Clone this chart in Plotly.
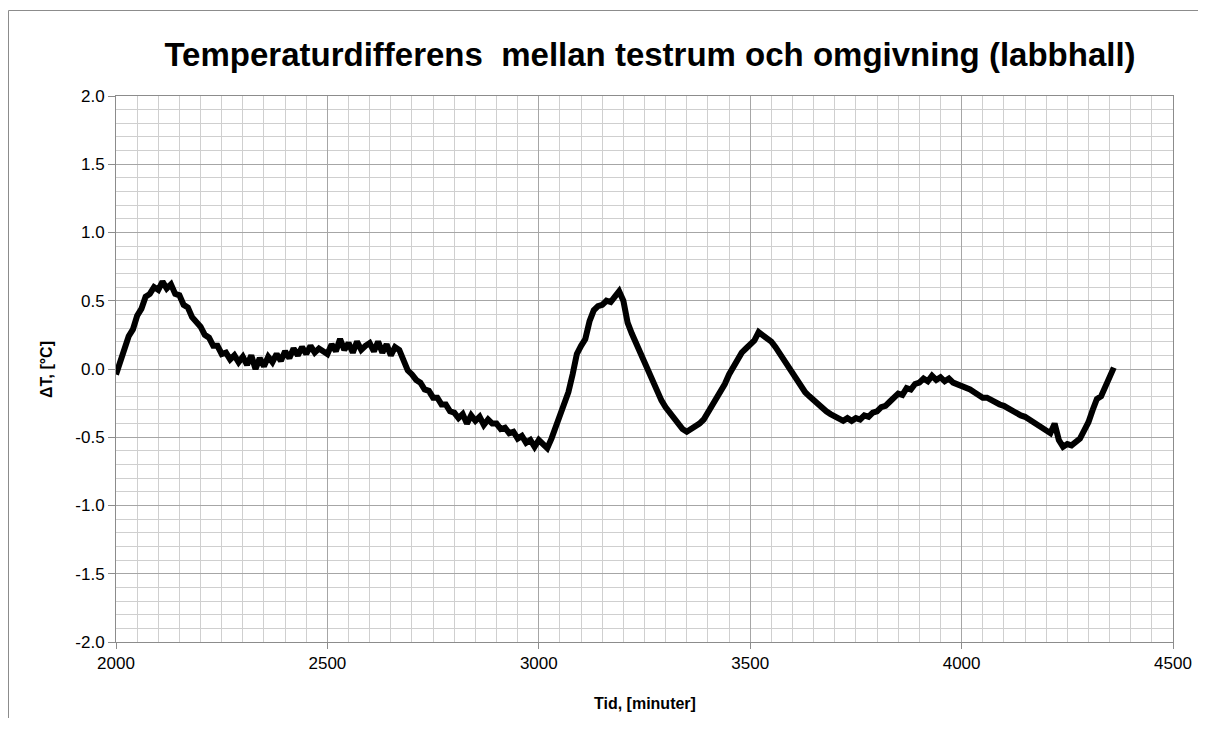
import plotly.graph_objects as go

# ---- data ----
TIME_MIN = [
    2000, 2010, 2020, 2030, 2040, 2050, 2060, 2070, 2080, 2090,
    2100, 2110, 2120, 2130, 2140, 2150, 2160, 2170, 2180, 2190,
    2200, 2210, 2220, 2230, 2240, 2250, 2260, 2270, 2280, 2290,
    2300, 2310, 2320, 2330, 2340, 2350, 2360, 2370, 2380, 2390,
    2400, 2410, 2420, 2430, 2440, 2450, 2460, 2470, 2480, 2490,
    2500, 2510, 2520, 2530, 2540, 2550, 2560, 2570, 2580, 2590,
    2600, 2610, 2620, 2630, 2640, 2650, 2660, 2670, 2680, 2690,
    2700, 2710, 2720, 2730, 2740, 2750, 2760, 2770, 2780, 2790,
    2800, 2810, 2820, 2830, 2840, 2850, 2860, 2870, 2880, 2890,
    2900, 2910, 2920, 2930, 2940, 2950, 2960, 2970, 2980, 2990,
    3000, 3010, 3020, 3030, 3040, 3050, 3060, 3070, 3080, 3090,
    3100, 3110, 3120, 3130, 3140, 3150, 3160, 3170, 3180, 3190,
    3200, 3210, 3220, 3230, 3240, 3250, 3260, 3270, 3280, 3290,
    3300, 3310, 3320, 3330, 3340, 3350, 3360, 3370, 3380, 3390,
    3400, 3410, 3420, 3430, 3440, 3450, 3460, 3470, 3480, 3490,
    3500, 3510, 3520, 3530, 3540, 3550, 3560, 3570, 3580, 3590,
    3600, 3610, 3620, 3630, 3640, 3650, 3660, 3670, 3680, 3690,
    3700, 3710, 3720, 3730, 3740, 3750, 3760, 3770, 3780, 3790,
    3800, 3810, 3820, 3830, 3840, 3850, 3860, 3870, 3880, 3890,
    3900, 3910, 3920, 3930, 3940, 3950, 3960, 3970, 3980, 3990,
    4000, 4010, 4020, 4030, 4040, 4050, 4060, 4070, 4080, 4090,
    4100, 4110, 4120, 4130, 4140, 4150, 4160, 4170, 4180, 4190,
    4200, 4210, 4220, 4230, 4240, 4250, 4260, 4270, 4280, 4290,
    4300, 4310, 4320, 4330, 4340, 4350, 4360,
]

DELTA_T = [
    -0.04, 0.06, 0.15, 0.24, 0.29, 0.39, 0.44, 0.53, 0.55, 0.60,
    0.58, 0.64, 0.59, 0.62, 0.55, 0.54, 0.47, 0.45, 0.38, 0.35,
    0.31, 0.25, 0.23, 0.17, 0.17, 0.11, 0.12, 0.07, 0.10, 0.05,
    0.09, 0.03, 0.10, 0.00, 0.08, 0.02, 0.09, 0.05, 0.11, 0.06,
    0.13, 0.08, 0.15, 0.10, 0.16, 0.11, 0.17, 0.12, 0.15, 0.13,
    0.11, 0.18, 0.13, 0.22, 0.14, 0.19, 0.12, 0.20, 0.14, 0.17,
    0.19, 0.13, 0.20, 0.12, 0.18, 0.10, 0.16, 0.14, 0.06, -0.01,
    -0.04, -0.08, -0.10, -0.15, -0.16, -0.21, -0.21, -0.26, -0.26, -0.31,
    -0.32, -0.36, -0.33, -0.40, -0.34, -0.38, -0.35, -0.41, -0.37, -0.40,
    -0.40, -0.44, -0.43, -0.47, -0.46, -0.51, -0.49, -0.54, -0.52, -0.57,
    -0.52, -0.55, -0.58, -0.51, -0.43, -0.35, -0.27, -0.17, -0.04, 0.11,
    0.17, 0.22, 0.35, 0.43, 0.46, 0.47, 0.50, 0.49, 0.53, 0.57,
    0.50, 0.34, 0.26, 0.19, 0.12, 0.05, -0.02, -0.10, -0.16, -0.23,
    -0.28, -0.32, -0.37, -0.40, -0.44, -0.46, -0.44, -0.43, -0.40, -0.37,
    -0.32, -0.28, -0.22, -0.16, -0.11, -0.04, 0.02, 0.07, 0.12, 0.15,
    0.18, 0.21, 0.27, 0.25, 0.23, 0.20, 0.16, 0.11, 0.06, 0.01,
    -0.04, -0.09, -0.13, -0.17, -0.20, -0.23, -0.26, -0.29, -0.31, -0.33,
    -0.35, -0.36, -0.38, -0.36, -0.38, -0.36, -0.37, -0.34, -0.35, -0.32,
    -0.31, -0.28, -0.27, -0.24, -0.21, -0.18, -0.19, -0.14, -0.15, -0.11,
    -0.10, -0.07, -0.09, -0.05, -0.08, -0.06, -0.09, -0.07, -0.10, -0.11,
    -0.12, -0.14, -0.15, -0.17, -0.19, -0.21, -0.21, -0.23, -0.25, -0.26,
    -0.27, -0.29, -0.30, -0.32, -0.34, -0.35, -0.37, -0.39, -0.40, -0.42,
    -0.44, -0.47, -0.40, -0.52, -0.57, -0.55, -0.56, -0.53, -0.51, -0.45,
    -0.39, -0.30, -0.22, -0.20, -0.13, -0.07, 0.01,
]

X_TICKS = [2000, 2500, 3000, 3500, 4000, 4500]
Y_TICKS = [2.0, 1.5, 1.0, 0.5, 0.0, -0.5, -1.0, -1.5, -2.0]
Y_TICK_TEXT = ["2.0", "1.5", "1.0", "0.5", "0.0", "-0.5", "-1.0", "-1.5", "-2.0"]

TITLE = "Temperaturdifferens  mellan testrum och omgivning (labbhall)"
X_TITLE = "Tid, [minuter]"
Y_TITLE = "ΔT, [°C]"

FONT = "Liberation Sans, Arial, sans-serif"
MAJOR = "#a6a6a6"
MINOR = "#cfcfcf"
AXIS = "#8c8c8c"

# page body has an 8px margin: figure coords = screen coords - 8.
# Figure kept a little smaller than the window so that no scrollbar appears.
OFF = 8
W, H = 1190, 710
L, T = 116 - OFF, 96 - OFF
R = W - (1173 - OFF)
B = H - (642 - OFF)
pw, ph = W - L - R, H - T - B


def px(sx):
    return (sx - OFF - L) / pw


def py(sy):
    return (H - B - (sy - OFF)) / ph


fig = go.Figure()
fig.add_trace(go.Scatter(
    x=TIME_MIN, y=DELTA_T, mode="lines",
    line=dict(color="black", width=6),
    showlegend=False, hoverinfo="x+y",
))

fig.update_layout(
    width=W, height=H,
    margin=dict(l=L, r=R, t=T, b=B, autoexpand=False),
    paper_bgcolor="white", plot_bgcolor="white",
    font=dict(family=FONT, color="black", size=16),
    showlegend=False,
    title=dict(
        text="<b>" + TITLE + "</b>",
        x=px(650), xref="paper", xanchor="center",
        y=1 - (54 - OFF) / H, yref="container", yanchor="middle",
        font=dict(family=FONT, size=33, color="black"),
    ),
)

fig.update_xaxes(
    range=[2000, 4500], tickvals=X_TICKS,
    showgrid=True, gridcolor=MAJOR, gridwidth=1,
    minor=dict(dtick=50, tick0=2000, showgrid=True, gridcolor=MINOR, gridwidth=1, ticks=""),
    showline=True, linecolor=AXIS, linewidth=1, mirror=True,
    ticks="outside", ticklen=6, tickcolor=AXIS, tickwidth=1,
    tickfont=dict(size=17, family=FONT, color="black"),
    zeroline=False, fixedrange=True,
)
fig.update_yaxes(
    range=[-2.0, 2.0], tickvals=Y_TICKS, ticktext=Y_TICK_TEXT,
    showgrid=True, gridcolor=MAJOR, gridwidth=1,
    minor=dict(dtick=0.1, tick0=0, showgrid=True, gridcolor=MINOR, gridwidth=1, ticks=""),
    showline=True, linecolor=AXIS, linewidth=1, mirror=True,
    ticks="outside", ticklen=7, tickcolor=AXIS, tickwidth=1,
    tickfont=dict(size=17, family=FONT, color="black"),
    zeroline=False, fixedrange=True,
)

# axis titles
fig.add_annotation(
    text="<b>" + X_TITLE + "</b>", xref="paper", yref="paper",
    x=px(645), y=py(703), xanchor="center", yanchor="middle",
    showarrow=False, font=dict(family=FONT, size=16, color="black"),
)
fig.add_annotation(
    text="<b>" + Y_TITLE + "</b>", xref="paper", yref="paper",
    x=px(46), y=py(370), xanchor="center", yanchor="middle",
    textangle=-90, showarrow=False, font=dict(family=FONT, size=16, color="black"),
)

# chart-area border (left and top edges visible in the reference)
bx = px(8.5)
by = py(10.5)
fig.add_shape(type="line", xref="paper", yref="paper",
              x0=bx, x1=bx, y0=by, y1=py(760), line=dict(color=AXIS, width=1))
fig.add_shape(type="line", xref="paper", yref="paper",
              x0=bx, x1=px(1260), y0=by, y1=by, line=dict(color=AXIS, width=1))

fig.write_html("out.html")
